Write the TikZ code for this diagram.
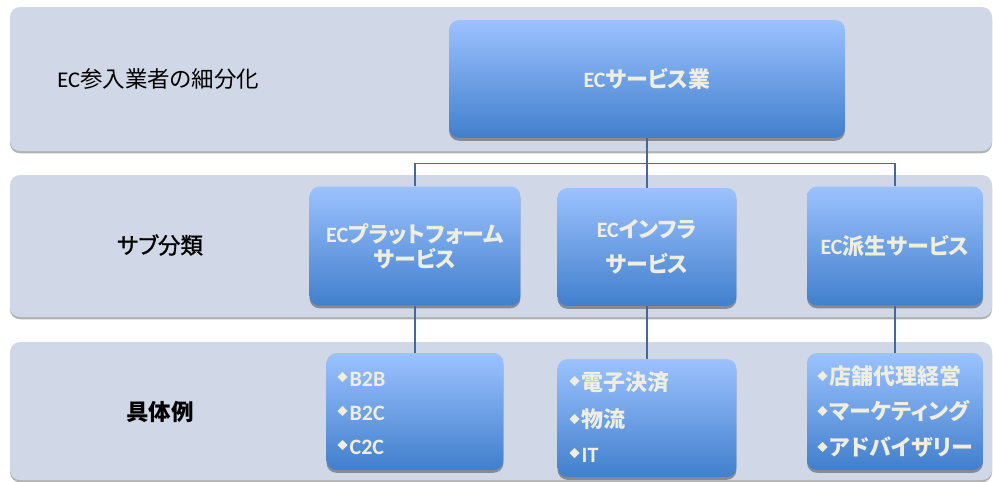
\documentclass[tikz,border=0pt]{standalone}
\usepackage{fontspec}
\setmainfont{Carlito}
\newfontfamily\cjk[RawFeature=+palt]{Noto Sans CJK JP}
\newfontfamily\cjkmid[RawFeature=+palt, FakeBold=1.2]{Noto Sans CJK JP}
\usetikzlibrary{shadows}
\newcommand\J[1]{{\cjk #1}}
\newcommand\bul{\raisebox{0.4ex}{\cjk\fontsize{6}{6}\selectfont ◆}\hspace{1pt}}
\definecolor{bandc}{HTML}{D0D7E6}
\definecolor{boxtop}{HTML}{9CC2FF}
\definecolor{boxbot}{HTML}{417FCC}
\definecolor{txt}{HTML}{EFEEE0}
\definecolor{linkc}{HTML}{46679A}
\tikzset{
  band/.style={fill=bandc, rounded corners=0.2cm,
    drop shadow={shadow xshift=0pt, shadow yshift=-1.3pt, opacity=0.3, fill=black}},
  box/.style={rounded corners=0.2cm, top color=boxtop, bottom color=boxbot,
    text=txt, font=\bfseries\fontsize{12.5}{15}\selectfont, align=center, inner sep=0pt,
    drop shadow={shadow xshift=0pt, shadow yshift=-1.6pt, opacity=0.35, fill=black}},
  rowlabel/.style={text=black, font=\fontsize{12.8}{15}\selectfont, inner sep=0pt},
  item/.style={text=txt, font=\bfseries\fontsize{12.5}{15}\selectfont, anchor=west, inner sep=0pt},
  link/.style={draw=linkc, line width=0.6pt},
}
\begin{document}
\begin{tikzpicture}[x=0.02cm,y=-0.02cm]
\useasboundingbox (0,0) rectangle (993,481);
% bands
\path[band] (10,7) rectangle (992,151);
\path[band] (10,175) rectangle (992,317);
\path[band] (10,342) rectangle (992,480);
% row labels
\node[rowlabel, anchor=west] (l1) at (57,79) {EC\J{参入業者の細分化}};
\node[rowlabel] (l2) at (160,245) {{\cjkmid サブ分類}};
\node[rowlabel, font=\bfseries\fontsize{12.8}{15}\selectfont] (l3) at (160,412) {\J{具体例}};
% boxes
\node[box, minimum width=7.92cm, minimum height=2.36cm] (top) at (647,79) {EC\J{サービス業}};
\node[box, minimum width=4.22cm, minimum height=2.38cm] (A) at (415,246) {EC\J{プラットフォーム}\\[-1pt]\J{サービス}};
\node[box, minimum width=3.58cm, minimum height=2.36cm] (B) at (647,247) {EC\J{インフラ}\\[5pt]\J{サービス}};
\node[box, minimum width=3.52cm, minimum height=2.38cm] (C) at (895,246) {EC\J{派生サービス}};
\node[box, minimum width=3.54cm, minimum height=2.34cm] (D) at (415,411.5) {};
\node[box, minimum width=3.58cm, minimum height=2.36cm] (E) at (647,418) {};
\node[box, minimum width=3.52cm, minimum height=2.34cm] (F) at (895,411.5) {};
% items
\node[item] (d1) at (337,379) {\bul B2B};
\node[item] (d2) at (337,413) {\bul B2C};
\node[item] (d3) at (337,447) {\bul C2C};
\node[item] (e1) at (569,382) {\bul\J{電子決済}};
\node[item] (e2) at (569,419) {\bul\J{物流}};
\node[item] (e3) at (569,455) {\bul IT};
\node[item] (f1) at (817,376) {\bul\J{店舗代理経営}};
\node[item] (f2) at (817,411) {\bul\J{マーケティング}};
\node[item] (f3) at (817,447) {\bul\J{アドバイザリー}};
% connectors
\draw[link] (top.south) -- ++(0,25) -| (A.north);
\draw[link] (top.south) -- ++(0,25) -| (C.north);
\draw[link] (top.south) -- (B.north);
\draw[link] (A.south) -- (A.south |- D.north);
\draw[link] (B.south) -- (B.south |- E.north);
\draw[link] (C.south) -- (C.south |- F.north);
\end{tikzpicture}
\end{document}
